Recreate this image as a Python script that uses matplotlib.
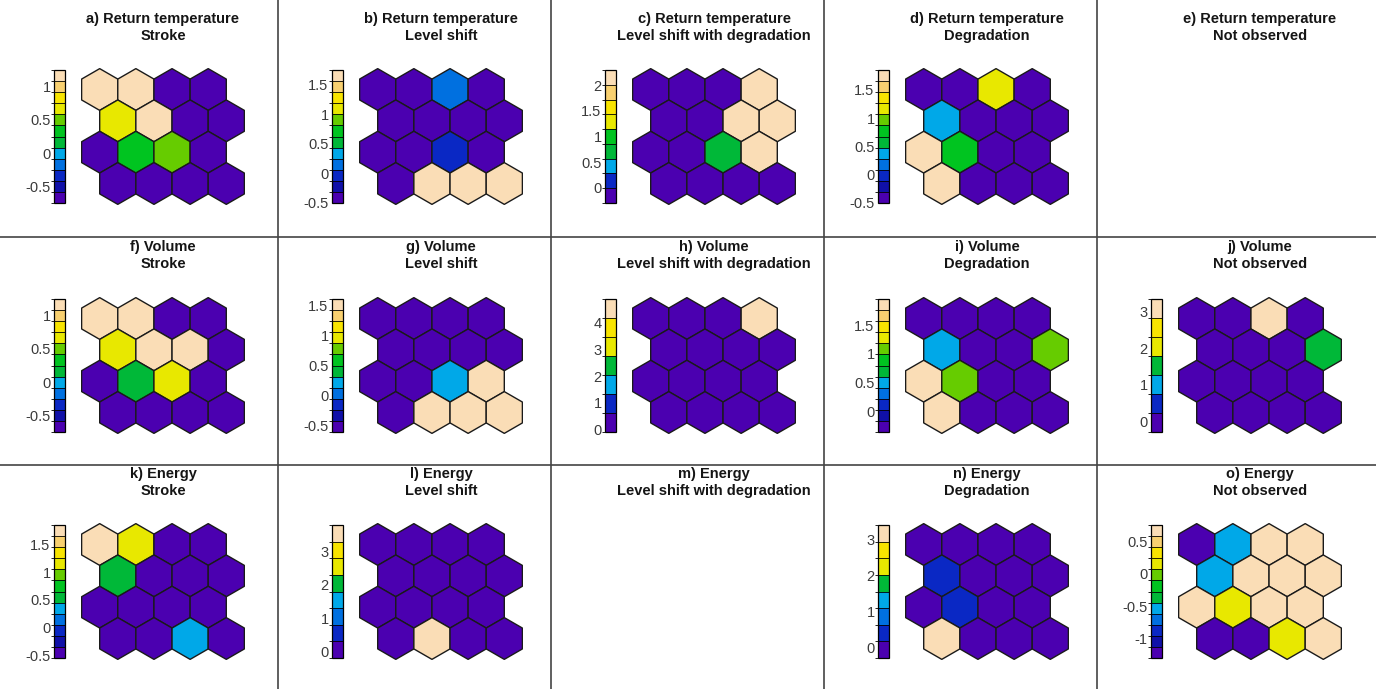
import numpy as np
import matplotlib.pyplot as plt
from matplotlib.collections import PolyCollection
from matplotlib.colors import ListedColormap, BoundaryNorm
from matplotlib.cm import ScalarMappable
from matplotlib.lines import Line2D

plt.rcParams['font.family'] = ['Liberation Sans', 'DejaVu Sans']

# discrete palette, low -> high
palette = ['#4B00B0', '#1010A8', '#0A28C4', '#0070E0', '#00A8E8', '#00B838',
           '#00C420', '#66CC00', '#E8E800', '#F8E400', '#F8D070', '#FADDB6']

# panel titles (row by row)
titles = ['a) Return temperature\nStroke', 'b) Return temperature\nLevel shift',
          'c) Return temperature\nLevel shift with degradation',
          'd) Return temperature\nDegradation', 'e) Return temperature\nNot observed',
          'f) Volume\nStroke', 'g) Volume\nLevel shift', 'h) Volume\nLevel shift with degradation',
          'i) Volume\nDegradation', 'j) Volume\nNot observed',
          'k) Energy\nStroke', 'l) Energy\nLevel shift', 'm) Energy\nLevel shift with degradation',
          'n) Energy\nDegradation', 'o) Energy\nNot observed']

# hex values, 4 rows (top -> bottom) x 4 columns; None = empty panel
a_vals = [[1.17, 1.17, -0.68, -0.68], [0.72, 1.17, -0.68, -0.68],
          [-0.68, 0.30, 0.50, -0.68], [-0.68, -0.68, -0.68, -0.68]]
b_vals = [[-0.45, -0.45, 0.15, -0.45], [-0.45, -0.45, -0.45, -0.45],
          [-0.45, -0.45, -0.03, -0.45], [-0.45, 1.70, 1.70, 1.70]]
c_vals = [[-0.2, -0.2, -0.2, 2.2], [-0.2, -0.2, 2.2, 2.2],
          [-0.2, -0.2, 0.72, 2.2], [-0.2, -0.2, -0.2, -0.2]]
d_vals = [[-0.45, -0.45, 1.16, -0.45], [0.38, -0.45, -0.45, -0.45],
          [1.80, 0.77, -0.45, -0.45], [1.80, -0.45, -0.45, -0.45]]
f_vals = [[1.17, 1.17, -0.68, -0.68], [0.72, 1.17, 1.17, -0.68],
          [-0.68, 0.20, 0.72, -0.68], [-0.68, -0.68, -0.68, -0.68]]
g_vals = [[-0.55, -0.55, -0.55, -0.55], [-0.55, -0.55, -0.55, -0.55],
          [-0.55, -0.55, 0.22, 1.55], [-0.55, 1.55, 1.55, 1.55]]
h_vals = [[0.0, 0.0, 0.0, 4.8], [0.0, 0.0, 0.0, 0.0],
          [0.0, 0.0, 0.0, 0.0], [0.0, 0.0, 0.0, 0.0]]
i_vals = [[-0.3, -0.3, -0.3, -0.3], [0.51, -0.3, -0.3, 1.09],
          [1.90, 1.09, -0.3, -0.3], [1.90, -0.3, -0.3, -0.3]]
j_vals = [[-0.2, -0.2, 3.3, -0.2], [-0.2, -0.2, -0.2, 1.53],
          [-0.2, -0.2, -0.2, -0.2], [-0.2, -0.2, -0.2, -0.2]]
k_vals = [[1.80, 1.15, -0.5, -0.5], [0.55, -0.5, -0.5, -0.5],
          [-0.5, -0.5, -0.5, -0.5], [-0.5, -0.5, 0.35, -0.5]]
l_vals = [[0.0, 0.0, 0.0, 0.0], [0.0, 0.0, 0.0, 0.0],
          [0.0, 0.0, 0.0, 0.0], [0.0, 3.7, 0.0, 0.0]]
n_vals = [[-0.2, -0.2, -0.2, -0.2], [0.39, -0.2, -0.2, -0.2],
          [-0.2, 0.39, -0.2, -0.2], [3.3, -0.2, -0.2, -0.2]]
o_vals = [[-1.25, -0.53, 0.7, 0.7], [-0.53, 0.7, 0.7, 0.7],
          [0.7, 0.15, 0.7, 0.7], [-1.25, -1.25, 0.15, 0.7]]

values = [a_vals, b_vals, c_vals, d_vals, None,
          f_vals, g_vals, h_vals, i_vals, j_vals,
          k_vals, l_vals, None, n_vals, o_vals]

# colour scale limits and number of colour steps per panel
ranges = [(-0.75, 1.25), (-0.5, 1.75), (-0.3, 2.3), (-0.5, 1.85), None,
          (-0.75, 1.25), (-0.6, 1.6), (-0.1, 4.9), (-0.35, 1.95), (-0.3, 3.35),
          (-0.55, 1.85), (-0.2, 3.8), None, (-0.3, 3.4), (-1.3, 0.75)]
nbins = [12, 12, 9, 12, None, 12, 12, 7, 12, 7, 12, 8, None, 8, 12]
cticks = [[-0.5, 0, 0.5, 1], [-0.5, 0, 0.5, 1, 1.5], [0, 0.5, 1, 1.5, 2],
          [-0.5, 0, 0.5, 1, 1.5], None,
          [-0.5, 0, 0.5, 1], [-0.5, 0, 0.5, 1, 1.5], [0, 1, 2, 3, 4],
          [0, 0.5, 1, 1.5], [0, 1, 2, 3],
          [-0.5, 0, 0.5, 1, 1.5], [0, 1, 2, 3], None, [0, 1, 2, 3],
          [-1, -0.5, 0, 0.5]]

# which palette entries a short colour scale uses
subsets = {7: [0, 2, 4, 5, 8, 9, 11], 8: [0, 2, 3, 4, 5, 8, 9, 11],
           9: [0, 2, 4, 5, 6, 8, 9, 10, 11], 12: list(range(12))}

W, H = 1376, 689
fig = plt.figure(figsize=(W / 100, H / 100), dpi=100)

col_x = [0, 278, 551, 824, 1097]
row_y = [0, 237, 465]
hex_top = [68, 297, 523]
title_top = [12, 240, 467]


def fx(px):
    return px / W


def fy(px):
    return 1 - px / H


# hexagon geometry (pointy top, radius 1)
r3 = np.sqrt(3)
ang = np.deg2rad(np.arange(6) * 60 + 30)
hex_shape = np.column_stack([np.cos(ang), np.sin(ang)])

for p in range(15):
    row, col = divmod(p, 5)
    x0 = col_x[col]
    hx, hw, hh = x0 + 80, 166, 137
    ht = hex_top[row]

    fig.text(fx(hx + hw / 2), fy(title_top[row]), titles[p], ha='center', va='top',
             fontsize=10.5, fontweight='bold', color='#151515', linespacing=1.25)

    if values[p] is None:
        continue

    vals = np.array(values[p], dtype=float)
    ax = fig.add_axes([fx(hx), fy(ht + hh), fx(hw), hh / H])
    polys, data = [], []
    for r in range(4):
        for c in range(4):
            cx = c * r3 + (r % 2) * r3 / 2
            cy = -r * 1.5
            polys.append(hex_shape + [cx, cy])
            data.append(vals[r, c])

    n = nbins[p]
    lo, hi = ranges[p]
    cmap = ListedColormap([palette[i] for i in subsets[n]])
    norm = BoundaryNorm(np.linspace(lo, hi, n + 1), n)

    pc = PolyCollection(polys, array=np.array(data), cmap=cmap, norm=norm,
                        edgecolor='#1a1a1a', linewidth=1.0)
    ax.add_collection(pc)
    ax.set_xlim(-r3 / 2 - 0.03, 4 * r3 + 0.03)
    ax.set_ylim(-5.53, 1.03)
    ax.set_aspect('equal')
    ax.axis('off')

    cax = fig.add_axes([fx(x0 + 54), fy(ht + 135), fx(11), 133 / H])
    cb = fig.colorbar(ScalarMappable(norm=norm, cmap=cmap), cax=cax,
                      drawedges=True, ticks=cticks[p])
    cb.outline.set_linewidth(0.9)
    cb.dividers.set_linewidth(0.6)
    cb.ax.yaxis.set_ticks_position('left')
    cb.ax.set_yticklabels([f'{t:g}' for t in cticks[p]])
    cb.ax.tick_params(length=0, labelsize=10.5, colors='#3a3a3a', pad=2.5)

# panel separators
for x in col_x[1:]:
    fig.add_artist(Line2D([fx(x), fx(x)], [0, 1], color='#444444', lw=1.2))
for y in row_y[1:]:
    fig.add_artist(Line2D([0, 1], [fy(y), fy(y)], color='#444444', lw=1.2))

fig.savefig('out.png', dpi=100, facecolor='white')
